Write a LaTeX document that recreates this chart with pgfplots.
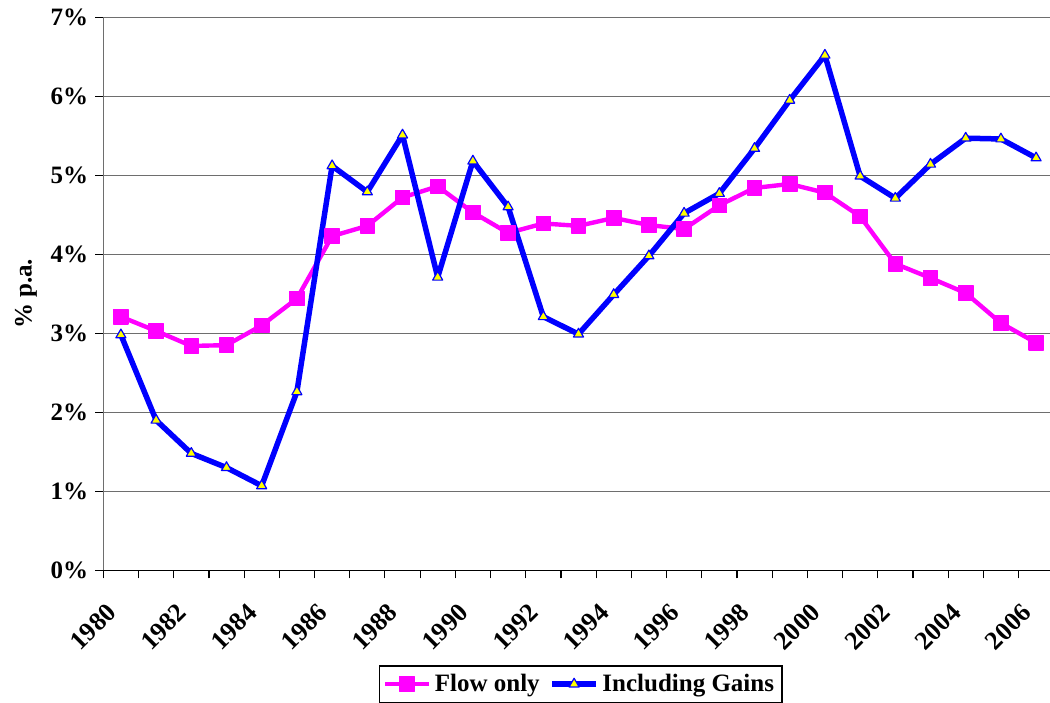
\documentclass[border=0pt]{standalone}
\usepackage{fontspec}
\setmainfont{Liberation Serif}
\usepackage{pgfplots}
\pgfplotsset{compat=1.18}

\definecolor{flowpink}{RGB}{255,0,255}
\definecolor{gainblue}{RGB}{0,0,255}
\definecolor{markyellow}{RGB}{255,255,0}
\definecolor{gridgray}{RGB}{110,110,110}

\newcommand{\chartfont}{\bfseries\fontsize{12.5}{14}\selectfont}

\begin{document}
\begin{tikzpicture}
\begin{axis}[
  scale only axis,
  width=473.35pt, height=276.5pt,
  xmin=1980, xmax=2006.895,
  ymin=0, ymax=7,
  axis x line*=bottom, axis y line*=left,
  axis line style={-},
  x axis line style={black, line width=0.7pt},
  y axis line style={gridgray, line width=0.7pt},
  /pgf/number format/assume math mode=true,
  /pgf/number format/1000 sep={},
  xtick={1980,1982,...,2006},
  minor xtick={1981,1983,...,2005},
  ytick={0,...,7},
  yticklabel={\pgfmathprintnumber{\tick}\%},
  tick align=outside,
  major tick length=4pt, minor tick length=4pt,
  every tick/.style={black, line width=0.6pt},
  tick label style={font=\chartfont},
  x tick label style={yshift=-7pt, xshift=1pt, rotate=45, anchor=north east,
    font=\bfseries\fontsize{13}{14}\selectfont},
  ymajorgrids,
  grid style={gridgray, line width=0.7pt},
  ylabel={\% p.a.},
  ylabel style={font=\chartfont},
  legend columns=2,
  legend style={at={(0.5,0)}, anchor=north, yshift=-47.5pt, xshift=2pt,
    draw=black, line width=0.6pt, font=\chartfont,
    inner sep=2pt,
    /tikz/every even column/.append style={column sep=3pt}},
  legend image code/.code={%
    \draw[mark repeat=2,mark phase=2,#1]
      plot coordinates {(0cm,0cm) (0.38cm,0cm) (0.76cm,0cm)};},
]

% Net flow only
\addplot[flowpink, line width=2.2pt, line join=round, mark=square*, mark size=3.6pt,
  mark options={solid, fill=flowpink, draw=flowpink, line width=0.6pt}]
  coordinates {
  (1980.5,3.21) (1981.5,3.03) (1982.5,2.84) (1983.5,2.85) (1984.5,3.10)
  (1985.5,3.44) (1986.5,4.23) (1987.5,4.36) (1988.5,4.72) (1989.5,4.86)
  (1990.5,4.53) (1991.5,4.27) (1992.5,4.39) (1993.5,4.36) (1994.5,4.46)
  (1995.5,4.37) (1996.5,4.32) (1997.5,4.62) (1998.5,4.84) (1999.5,4.89)
  (2000.5,4.78) (2001.5,4.48) (2002.5,3.88) (2003.5,3.70) (2004.5,3.51)
  (2005.5,3.13) (2006.5,2.88)
  };
\addlegendentry{Flow only}

% Flow plus gains
\addplot[gainblue, line width=2.75pt, line join=round, mark=triangle*, mark size=2.9pt,
  mark options={solid, fill=markyellow, draw=gainblue, line width=0.6pt}]
  coordinates {
  (1980.5,2.98) (1981.5,1.90) (1982.5,1.48) (1983.5,1.30) (1984.5,1.07)
  (1985.5,2.26) (1986.5,5.12) (1987.5,4.79) (1988.5,5.51) (1989.5,3.71)
  (1990.5,5.18) (1991.5,4.60) (1992.5,3.21) (1993.5,2.99) (1994.5,3.49)
  (1995.5,3.98) (1996.5,4.52) (1997.5,4.77) (1998.5,5.34) (1999.5,5.95)
  (2000.5,6.52) (2001.5,4.99) (2002.5,4.71) (2003.5,5.14) (2004.5,5.47)
  (2005.5,5.46) (2006.5,5.22)
  };
\addlegendentry{Including Gains}

\end{axis}
\pgfresetboundingbox
\path[use as bounding box] (-51.65pt,-65.85pt) rectangle (473.35pt,285.15pt);
\end{tikzpicture}
\end{document}
